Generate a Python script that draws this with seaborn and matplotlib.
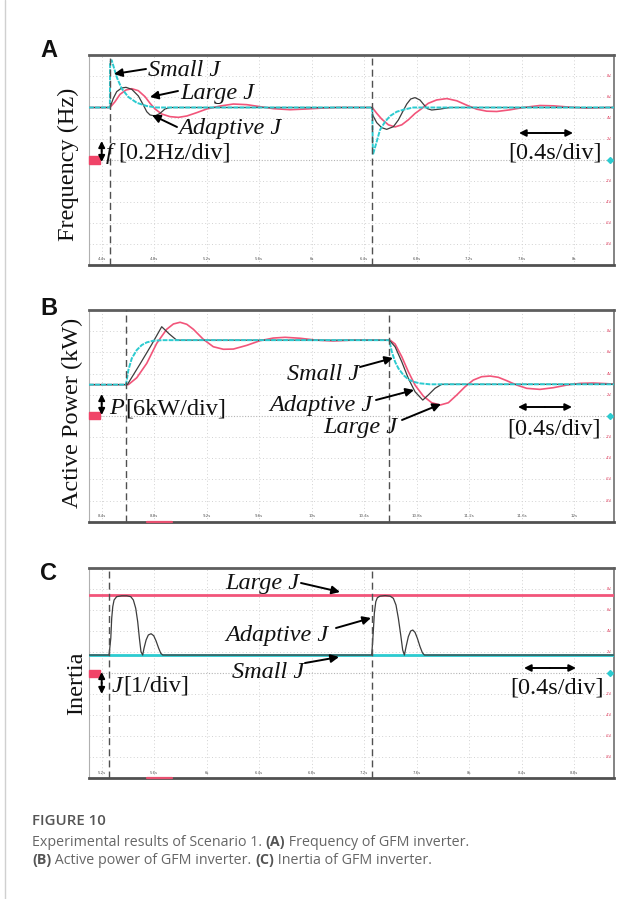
import matplotlib
matplotlib.use("Agg")
import matplotlib.pyplot as plt
import pandas as pd
import seaborn as sns
from matplotlib.patches import FancyArrowPatch, Rectangle
from matplotlib.lines import Line2D

sns.set_theme(style="white")
plt.rcParams['font.family'] = ['DejaVu Sans']

# ---------------- data (scope volts, 2 V per division) ----------------
# Panel A : frequency
freq_ticks = [4.4, 4.8, 5.2, 5.6, 6.0, 6.4, 6.8, 7.2, 7.6, 8.0]
freq_tick_labels = ["4.4s", "4.8s", "5.2s", "5.6s", "6s", "6.4s", "6.8s", "7.2s", "7.6s", "8s"]
freq_events = [4.463, 6.461]
freq_small_t = [4.303, 4.462, 4.464, 4.476, 4.514, 4.552, 4.603, 4.667, 4.743, 4.819,
                6.461, 6.466, 6.495, 6.520, 6.559, 6.597, 6.648, 6.711, 6.774, 8.303]
freq_small_v = [5.0, 5.0, 9.3, 9.5, 7.9, 6.8, 6.0, 5.45, 5.14, 5.0,
                5.0, 0.5, 1.75, 2.86, 3.65, 4.19, 4.60, 4.83, 5.0, 5.0]
freq_adapt_t = [4.303, 4.463, 4.488, 4.514, 4.552, 4.585, 4.629, 4.679, 4.717, 4.743, 4.768,
                4.806, 4.844, 4.882, 4.920,
                6.461, 6.464, 6.495, 6.533, 6.571, 6.622, 6.660, 6.693, 6.724, 6.754, 6.787,
                6.825, 6.856, 6.881, 6.914, 6.978, 7.054, 8.303]
freq_adapt_v = [5.0, 5.0, 5.87, 6.51, 6.86, 6.92, 6.73, 6.10, 5.24, 4.60, 4.29,
                4.19, 4.44, 4.86, 5.0,
                5.0, 4.29, 3.56, 3.08, 2.92, 3.17, 3.81, 4.60, 5.33, 5.81, 5.94,
                5.71, 5.24, 4.89, 4.76, 4.85, 5.0, 5.0]
freq_large_t = [4.303, 4.463, 4.501, 4.539, 4.585, 4.629, 4.679, 4.730, 4.768, 4.806, 4.857,
                4.920, 4.984, 5.048, 5.124, 5.200, 5.301, 5.403, 5.505, 5.606, 5.707, 5.835,
                5.962, 6.088, 6.200,
                6.461, 6.495, 6.533, 6.584, 6.635, 6.686, 6.736, 6.787, 6.838, 6.888, 6.952,
                7.029, 7.105, 7.181, 7.257, 7.333, 7.410, 7.511, 7.612, 7.739, 7.841, 7.968,
                8.095, 8.248, 8.303]
freq_large_v = [5.0, 5.0, 5.55, 6.25, 6.67, 6.79, 6.60, 6.03, 5.40, 4.86, 4.38,
                4.13, 4.06, 4.19, 4.51, 4.86, 5.14, 5.33, 5.27, 5.08, 4.89, 4.79,
                4.86, 4.95, 5.0,
                5.0, 4.45, 3.90, 3.35, 3.15, 3.35, 3.83, 4.43, 4.90, 5.40, 5.72,
                5.85, 5.64, 5.22, 4.84, 4.65, 4.62, 4.78, 5.00, 5.19, 5.16, 5.03,
                4.94, 5.0, 5.0]

# Panel B : active power
pow_ticks = [8.4, 8.8, 9.2, 9.6, 10.0, 10.4, 10.8, 11.2, 11.6, 12.0]
pow_tick_labels = ["8.4s", "8.8s", "9.2s", "9.6s", "10s", "10.4s", "10.8s", "11.2s", "11.6s", "12s"]
pow_events = [8.585, 10.591]
pow_small_t = [8.303, 8.585, 8.603, 8.629, 8.667, 8.705, 8.743, 8.793, 8.869,
               10.591, 10.610, 10.635, 10.660, 10.698, 10.736, 10.774, 10.825, 10.901, 12.303]
pow_small_v = [2.95, 2.95, 4.33, 5.43, 6.22, 6.69, 6.94, 7.10, 7.15,
               7.15, 6.06, 5.11, 4.49, 3.86, 3.45, 3.22, 3.07, 2.98, 2.98]
pow_adapt_t = [8.303, 8.595, 8.692, 8.781, 8.857, 8.915, 8.971,
               10.591, 10.635, 10.686, 10.736, 10.787, 10.846, 10.888, 10.939, 10.990, 12.303]
pow_adapt_v = [2.95, 2.95, 4.90, 6.75, 8.42, 7.73, 7.15,
               7.15, 6.53, 5.11, 3.54, 2.28, 1.49, 1.97, 2.60, 2.98, 2.98]
pow_large_t = [8.303, 8.603, 8.667, 8.743, 8.819, 8.895, 8.946, 8.997, 9.048, 9.098, 9.174,
               9.250, 9.327, 9.403, 9.505, 9.606, 9.707, 9.797, 9.911, 10.038, 10.165, 10.300,
               10.597, 10.635, 10.686, 10.736, 10.787, 10.850, 10.914, 10.978, 11.041, 11.105,
               11.168, 11.231, 11.295, 11.359, 11.422, 11.486, 11.562, 11.638, 11.739, 11.841,
               11.943, 12.044, 12.146, 12.248, 12.303]
pow_large_v = [2.95, 2.95, 3.60, 4.96, 6.85, 8.18, 8.68, 8.84, 8.65, 8.18, 7.23,
               6.53, 6.29, 6.31, 6.66, 7.10, 7.35, 7.42, 7.33, 7.15, 7.07, 7.15,
               7.15, 6.79, 5.59, 4.17, 2.91, 1.87, 1.24, 1.02, 1.24, 1.97,
               2.75, 3.38, 3.70, 3.76, 3.64, 3.32, 2.91, 2.60, 2.50, 2.66,
               2.91, 3.07, 3.10, 3.04, 3.00]

# Panel C : inertia
inert_ticks = [5.2, 5.6, 6.0, 6.4, 6.8, 7.2, 7.6, 8.0, 8.4, 8.8]
inert_tick_labels = ["5.2s", "5.6s", "6s", "6.4s", "6.8s", "7.2s", "7.6s", "8s", "8.4s", "8.8s"]
inert_events = [5.256, 7.257]
inert_large_t = [5.103, 9.103]
inert_large_v = [7.46, 7.46]
inert_small_t = [5.103, 9.103]
inert_small_v = [1.74, 1.74]
inert_adapt_t = [5.103, 5.256, 5.269, 5.276, 5.284, 5.294, 5.314, 5.352, 5.391, 5.421, 5.441,
                 5.459, 5.474, 5.487, 5.499, 5.512, 5.522, 5.538, 5.555, 5.576, 5.596, 5.614,
                 5.634, 5.650, 5.665,
                 7.257, 7.269, 7.277, 7.288, 7.300, 7.320, 7.359, 7.397, 7.422, 7.442, 7.460,
                 7.478, 7.493, 7.506, 7.519, 7.536, 7.554, 7.570, 7.587, 7.605, 7.625, 7.643,
                 7.658, 9.103]
inert_adapt_v = [1.74, 1.74, 3.33, 5.24, 6.34, 6.98, 7.30, 7.38, 7.38, 7.30, 6.98,
                 6.19, 4.92, 3.33, 2.06, 1.74, 2.38, 3.17, 3.65, 3.77, 3.58, 3.08,
                 2.38, 1.90, 1.74,
                 1.74, 3.96, 5.71, 6.82, 7.20, 7.35, 7.40, 7.35, 7.14, 6.50, 5.24,
                 3.65, 2.22, 1.74, 2.54, 3.49, 4.03, 4.12, 3.90, 3.33, 2.54, 1.96,
                 1.74, 1.74]

grid_levels = [-8, -6, -4, -2, 2, 4, 6, 8]
grid_level_labels = ["-8V", "-6V", "-4V", "-2V", "2V", "4V", "6V", "8V"]

# ---------------- figure ----------------
W, H = 641, 899
fig = plt.figure(figsize=(W / 100, H / 100), dpi=100)
fig.patch.set_facecolor('white')

RED = '#f2557a'
CYAN = '#2ccbd0'
BLACK = '#3c3c3c'
SERIF = 'Liberation Serif'


def fx(px):
    return px / W


def fy(py):
    return 1 - py / H


def scope_axes(top, bottom, ticks, labels, events):
    ax = fig.add_axes([fx(89), fy(bottom), 525 / W, (bottom - top) / H])
    t0 = ticks[0] - 0.097
    ax.set_xlim(t0, t0 + 4.0)
    ax.set_ylim(-10, 10)
    ax.set_xticks([])
    ax.set_yticks([])
    ax.set_facecolor('white')
    for t in ticks:
        ax.axvline(t, color='#d2d2d2', lw=0.7, ls=(0, (1, 2.5)), zorder=0)
    for v, lab in zip(grid_levels, grid_level_labels):
        ax.axhline(v, color='#d2d2d2', lw=0.7, ls=(0, (1, 2.5)), zorder=0)
        ax.text(0.996, v, lab, transform=ax.get_yaxis_transform(), fontsize=2.6,
                color='#e04060', ha='right', va='center')
    ax.axhline(0, color='#b4b4b4', lw=0.8, ls=(0, (1, 1.5)), zorder=0)
    for t, lab in zip(ticks, labels):
        ax.text(t, -9.45, lab, fontsize=2.8, color='#555555', ha='center', va='center')
    for e in events:
        ax.axvline(e, color='#505050', lw=1.0, ls=(0, (5, 3)), zorder=6)
    for side, (c, w) in {'top': ('#5e5e5e', 2.0), 'bottom': ('#505050', 2.0),
                         'left': ('#b0b0b0', 0.8), 'right': ('#7a7a7a', 1.3)}.items():
        ax.spines[side].set_color(c)
        ax.spines[side].set_linewidth(w)
        ax.spines[side].set_visible(True)
    # channel tags
    ax.add_patch(Rectangle((0.0, 0.483), 0.02, 0.034, transform=ax.transAxes,
                           color='#f04468', zorder=7, clip_on=False))
    ax.plot([0.992], [0.5], transform=ax.transAxes, marker='D', ms=3, color=CYAN,
            clip_on=False, zorder=7)
    return ax


def draw(ax, t, v, color, lw, ls='-', z=2):
    df = pd.DataFrame({'t': t, 'v': v})
    sns.lineplot(data=df, x='t', y='v', ax=ax, color=color, linewidth=lw, linestyle=ls,
                 estimator=None, sort=False, zorder=z)
    ax.set_xlabel('')
    ax.set_ylabel('')


axA = scope_axes(55, 265, freq_ticks, freq_tick_labels, freq_events)
draw(axA, freq_large_t, freq_large_v, RED, 1.2, z=3)
draw(axA, freq_adapt_t, freq_adapt_v, BLACK, 0.9, z=4)
draw(axA, freq_small_t, freq_small_v, CYAN, 1.4, ls=(0, (2.5, 0.6)), z=5)

axB = scope_axes(310, 521.7, pow_ticks, pow_tick_labels, pow_events)
draw(axB, pow_large_t, pow_large_v, RED, 1.2, z=3)
draw(axB, pow_adapt_t, pow_adapt_v, BLACK, 0.9, z=4)
draw(axB, pow_small_t, pow_small_v, CYAN, 1.4, ls=(0, (2.5, 0.6)), z=5)

axC = scope_axes(568.3, 778.3, inert_ticks, inert_tick_labels, inert_events)
draw(axC, inert_large_t, inert_large_v, RED, 2.0, z=3)
draw(axC, inert_small_t, inert_small_v, CYAN, 2.0, z=4)
draw(axC, inert_adapt_t, inert_adapt_v, BLACK, 0.9, z=5)

# red marks on bottom border of B and C
for yb in (521.7, 778.3):
    fig.add_artist(Line2D([fx(147), fx(172)], [fy(yb), fy(yb)], color='#e85070', lw=1.6))


# ---------------- annotations ----------------
def txt(px, py, s, italic=False, size=17.5):
    fig.text(fx(px), fy(py), s, family=SERIF, style='italic' if italic else 'normal',
             fontsize=size, ha='left', va='baseline', color='#111111', zorder=10)


def arrow(p0, p1, style='-|>', ms=12):
    fig.add_artist(FancyArrowPatch((fx(p0[0]), fy(p0[1])), (fx(p1[0]), fy(p1[1])),
                                   transform=fig.transFigure, arrowstyle=style,
                                   mutation_scale=ms, lw=1.4, color='black',
                                   shrinkA=0, shrinkB=0, zorder=10))


# Panel A
txt(148, 75.5, "Small J", True)
txt(180, 98.5, "Large J", True)
txt(178, 134, "Adaptive J", True)
arrow((146, 69), (114, 74))
arrow((178, 91), (150, 97))
arrow((177, 127), (152, 115))
txt(106, 159, "f", True)
txt(118, 159, "[0.2Hz/div]")
arrow((101.7, 151), (101.7, 141), ms=9)
arrow((101.7, 151), (101.7, 162), ms=9)
txt(508, 158.5, "[0.4s/div]")
arrow((546, 133), (519, 133), ms=10)
arrow((546, 133), (573, 133), ms=10)

# Panel B
txt(287, 379.5, "Small J", True)
txt(269, 410.5, "Adaptive J", True)
txt(323, 433.5, "Large J", True)
arrow((360, 367), (393, 358))
arrow((376, 400), (414, 390))
arrow((402, 420), (441, 404))
txt(109, 414, "P", True)
txt(125, 414, "[6kW/div]")
arrow((101.7, 404), (101.7, 394), ms=9)
arrow((101.7, 404), (101.7, 415), ms=9)
txt(507, 434, "[0.4s/div]")
arrow((545, 407), (518, 407), ms=10)
arrow((545, 407), (572, 407), ms=10)

# Panel C
txt(225, 589.5, "Large J", True)
txt(225, 641, "Adaptive J", True)
txt(232, 678.5, "Small J", True)
arrow((301, 583), (340, 592))
arrow((336, 628), (371, 618))
arrow((305, 663), (339, 657))
txt(112, 691.5, "J", True)
txt(123, 691.5, "[1/div]")
arrow((101.7, 683), (101.7, 672), ms=9)
arrow((101.7, 683), (101.7, 694), ms=9)
txt(510, 693.5, "[0.4s/div]")
arrow((550, 668), (524, 668), ms=10)
arrow((550, 668), (576, 668), ms=10)

# y labels
for px, py, s in [(74, 164, "Frequency (Hz)"), (78, 412.5, "Active Power (kW)"),
                  (82, 683.5, "Inertia")]:
    fig.text(fx(px), fy(py), s, family=SERIF, fontsize=17.5, rotation=90,
             rotation_mode='anchor', ha='center', va='baseline', color='#111111')

# panel letters
for py, s in [(56.7, "A"), (315, "B"), (580, "C")]:
    fig.text(fx(40), fy(py), s, family='Liberation Sans', weight='bold', fontsize=17,
             ha='left', va='baseline', color='#111111')

# left page rule
fig.add_artist(Line2D([fx(5), fx(5)], [0, 1], color='#d0d0d0', lw=1.0))

# caption
fig.text(fx(32), fy(825), "FIGURE 10", family='Open Sans', weight='semibold', fontsize=10.8,
         color='#555555', ha='left', va='baseline')

renderer = fig.canvas.get_renderer()


def rich_line(px, py, parts, size=10.3):
    x = fx(px)
    for s, w in parts:
        t = fig.text(x, fy(py), s, family='Open Sans', weight=w, fontsize=size,
                     color='#555555' if w == 'bold' else '#666666', ha='left', va='baseline')
        bb = t.get_window_extent(renderer=renderer)
        x += bb.width / W


rich_line(32, 845.7, [("Experimental results of Scenario 1. ", 'normal'), ("(A)", 'bold'),
                      (" Frequency of GFM inverter.", 'normal')])
rich_line(32, 864, [("(B)", 'bold'), (" Active power of GFM inverter. ", 'normal'),
                    ("(C)", 'bold'), (" Inertia of GFM inverter.", 'normal')])

fig.savefig("out.png", dpi=100, facecolor='white')
